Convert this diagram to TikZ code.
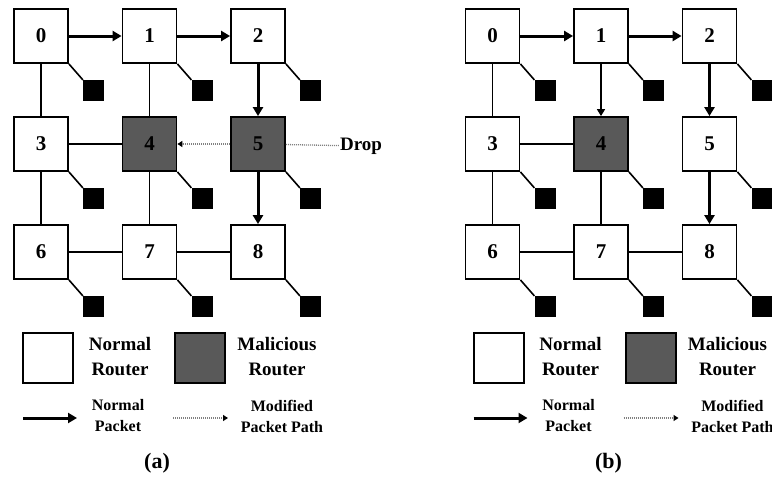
\documentclass[tikz,border=0pt]{standalone}
\usepackage{fontspec}
\setmainfont{Liberation Serif}
\usetikzlibrary{positioning,arrows.meta}
\tikzset{
  rt/.style={rectangle, fill=white, draw=black, line width=1.8pt, minimum size=54pt, inner sep=0pt, font=\fontsize{21}{21}\selectfont\bfseries},
  mrt/.style={rt, fill=black!65},
  pe/.style={rectangle, fill=black, minimum size=21pt, inner sep=0pt},
  ln/.style={draw=black, line width=1.6pt},
  pkt/.style={draw=black, line width=3pt, -{Triangle[length=9pt,width=10pt]}},
  tpkt/.style={draw=black, line width=1.6pt, -{Triangle[length=7pt,width=8pt]}},
  modp/.style={draw=black!50, line width=1.3pt, dash pattern=on 1pt off 1pt},
  moda/.style={modp, -{Triangle[length=5pt,width=6pt,black]}},
  key/.style={rectangle, draw=black, line width=2pt, minimum size=50pt, inner sep=0pt},
  lbl/.style={align=center, inner sep=1pt, font=\fontsize{19}{25}\selectfont\bfseries},
  slbl/.style={align=center, inner sep=1pt, font=\fontsize{16}{21}\selectfont\bfseries},
  subcap/.style={font=\fontsize{22}{22}\selectfont\bfseries}
}

\begin{document}
\begin{tikzpicture}[x=1pt,y=-1pt]
  \useasboundingbox (0,0) rectangle (772,477);
  \clip (0,0) rectangle (772,477);
  % (a) node 5 drops, node 4 reroutes
  \begin{scope}
    \node[rt] (a0) at (41,36) {0};
    \node[rt] (a1) at (149.5,36) {1};
    \node[rt] (a2) at (258,36) {2};
    \node[rt] (a3) at (41,144) {3};
    \node[mrt] (a4) at (149.5,144) {4};
    \node[mrt] (a5) at (258,144) {5};
    \node[rt] (a6) at (41,252) {6};
    \node[rt] (a7) at (149.5,252) {7};
    \node[rt] (a8) at (258,252) {8};
    \node[pe, below right=16pt and 14pt of a0] (pa0) {};
    \node[pe, below right=16pt and 14pt of a1] (pa1) {};
    \node[pe, below right=16pt and 14pt of a2] (pa2) {};
    \node[pe, below right=16pt and 14pt of a3] (pa3) {};
    \node[pe, below right=16pt and 14pt of a4] (pa4) {};
    \node[pe, below right=16pt and 14pt of a5] (pa5) {};
    \node[pe, below right=16pt and 14pt of a6] (pa6) {};
    \node[pe, below right=16pt and 14pt of a7] (pa7) {};
    \node[pe, below right=16pt and 14pt of a8] (pa8) {};
    \draw[ln] (a0.south east)--(pa0.north west); \draw[ln] (a1.south east)--(pa1.north west);
    \draw[ln] (a2.south east)--(pa2.north west); \draw[ln] (a3.south east)--(pa3.north west);
    \draw[ln] (a4.south east)--(pa4.north west); \draw[ln] (a5.south east)--(pa5.north west);
    \draw[ln] (a6.south east)--(pa6.north west); \draw[ln] (a7.south east)--(pa7.north west);
    \draw[ln] (a8.south east)--(pa8.north west);
    \draw[ln] (a0)--(a3); \draw[ln] (a3)--(a6); \draw[ln] (a1)--(a4); \draw[ln] (a4)--(a7);
    \draw[ln] (a3)--(a4); \draw[ln] (a6)--(a7); \draw[ln] (a7)--(a8);
    \draw[pkt] (a0)--(a1); \draw[pkt] (a1)--(a2);
    \draw[pkt] (a2)--(a5); \draw[pkt] (a5)--(a8);
    \draw[moda] (a5)--(a4);
    \node[lbl] (drop) at (361,146) {Drop};
    \draw[modp] (a5)--(drop);
    % legend
    \node[key] (ak1) at (48,358) {};
    \node[key, fill=black!65] (ak2) at (200,358) {};
    \node[lbl] (at1) at (120,357) {Normal\\Router};
    \node[lbl] (at2) at (277,357) {Malicious\\Router};
    \coordinate (aa1) at (23,418); \coordinate (aa2) at (77,418);
    \coordinate (ad1) at (173,418); \coordinate (ad2) at (228,418);
    \draw[pkt] (aa1)--(aa2);
    \draw[moda] (ad1)--(ad2);
    \node[slbl] (as1) at (118,416) {Normal\\Packet};
    \node[slbl] (as2) at (282,416) {Modified\\Packet Path};
    \node[subcap] (acap) at (157,463) {(a)};
  \end{scope}
  % (b) node 4 only
  \begin{scope}[xshift=451.5pt]
    \node[rt] (b0) at (41,36) {0};
    \node[rt] (b1) at (149.5,36) {1};
    \node[rt] (b2) at (258,36) {2};
    \node[rt] (b3) at (41,144) {3};
    \node[mrt] (b4) at (149.5,144) {4};
    \node[rt] (b5) at (258,144) {5};
    \node[rt] (b6) at (41,252) {6};
    \node[rt] (b7) at (149.5,252) {7};
    \node[rt] (b8) at (258,252) {8};
    \node[pe, below right=16pt and 14pt of b0] (pb0) {};
    \node[pe, below right=16pt and 14pt of b1] (pb1) {};
    \node[pe, below right=16pt and 14pt of b2] (pb2) {};
    \node[pe, below right=16pt and 14pt of b3] (pb3) {};
    \node[pe, below right=16pt and 14pt of b4] (pb4) {};
    \node[pe, below right=16pt and 14pt of b5] (pb5) {};
    \node[pe, below right=16pt and 14pt of b6] (pb6) {};
    \node[pe, below right=16pt and 14pt of b7] (pb7) {};
    \node[pe, below right=16pt and 14pt of b8] (pb8) {};
    \draw[ln] (b0.south east)--(pb0.north west); \draw[ln] (b1.south east)--(pb1.north west);
    \draw[ln] (b2.south east)--(pb2.north west); \draw[ln] (b3.south east)--(pb3.north west);
    \draw[ln] (b4.south east)--(pb4.north west); \draw[ln] (b5.south east)--(pb5.north west);
    \draw[ln] (b6.south east)--(pb6.north west); \draw[ln] (b7.south east)--(pb7.north west);
    \draw[ln] (b8.south east)--(pb8.north west);
    \draw[ln] (b0)--(b3); \draw[ln] (b3)--(b6); \draw[ln] (b4)--(b7);
    \draw[ln] (b3)--(b4); \draw[ln] (b6)--(b7); \draw[ln] (b7)--(b8);
    \draw[pkt] (b0)--(b1); \draw[pkt] (b1)--(b2);
    \draw[pkt] (b2)--(b5); \draw[pkt] (b5)--(b8);
    \draw[tpkt] (b1)--(b4);
    % legend
    \node[key] (bk1) at (47,358) {};
    \node[key, fill=black!65] (bk2) at (199.5,358) {};
    \node[lbl] (bt1) at (119,357) {Normal\\Router};
    \node[lbl] (bt2) at (276,357) {Malicious\\Router};
    \coordinate (ba1) at (22,418); \coordinate (ba2) at (76,418);
    \coordinate (bd1) at (172,418); \coordinate (bd2) at (227,418);
    \draw[pkt] (ba1)--(ba2);
    \draw[moda] (bd1)--(bd2);
    \node[slbl] (bs1) at (117,416) {Normal\\Packet};
    \node[slbl] (bs2) at (281,416) {Modified\\Packet Path};
    \node[subcap] (bcap) at (157,463) {(b)};
  \end{scope}
\end{tikzpicture}
\end{document}
